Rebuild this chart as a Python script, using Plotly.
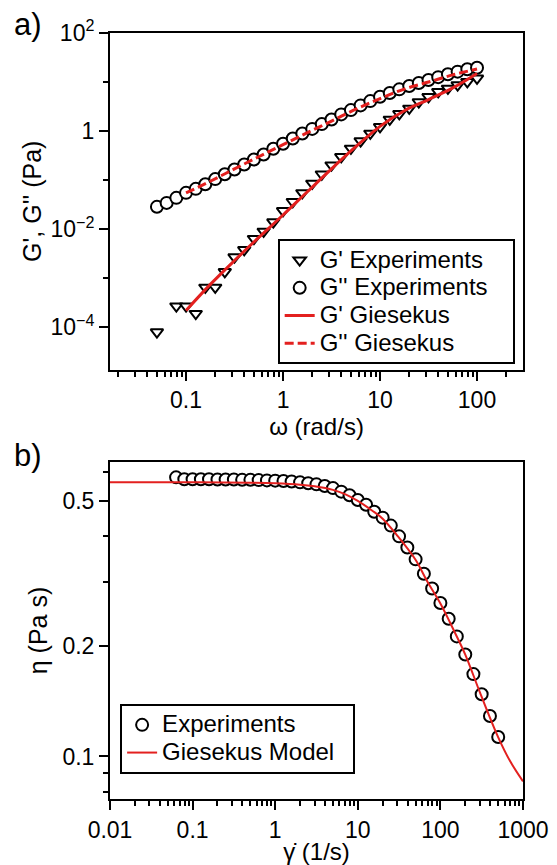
import plotly.graph_objects as go

# ---------------- Panel a data ----------------
omega_gpp = [0.0501, 0.0631, 0.0794, 0.1, 0.126, 0.158, 0.2, 0.251, 0.316, 0.398,
             0.501, 0.631, 0.794, 1.0, 1.26, 1.58, 2.0, 2.51, 3.16, 3.98,
             5.01, 6.31, 7.94, 10, 12.6, 15.8, 20, 25.1, 31.6, 39.8,
             50.1, 63.1, 79.4, 100]
gpp_exp = [0.0286, 0.0344, 0.0436, 0.0551, 0.0665, 0.0828, 0.105, 0.132, 0.165, 0.209,
           0.264, 0.334, 0.436, 0.551, 0.708, 0.895, 1.11, 1.39, 1.73, 2.19,
           2.68, 3.34, 4.09, 5.02, 5.97, 7.10, 8.28, 9.55, 11.0, 12.6,
           14.4, 16.3, 18.2, 19.6]

omega_gp = [0.0501, 0.0794, 0.1, 0.126, 0.158, 0.2, 0.251, 0.316, 0.398,
            0.501, 0.631, 0.794, 1.0, 1.26, 1.58, 2.0, 2.51, 3.16, 3.98,
            5.01, 6.31, 7.94, 10, 12.6, 15.8, 20, 25.1, 31.6, 39.8,
            50.1, 63.1, 79.4, 100]
gp_exp = [8.0e-5, 2.7e-4, 2.7e-4, 1.9e-4, 6.5e-4, 6.5e-4, 1.35e-3, 2.7e-3, 3.8e-3,
          6.4e-3, 9.0e-3, 0.014, 0.0237, 0.0363, 0.055, 0.0857, 0.132, 0.202, 0.299,
          0.443, 0.625, 0.895, 1.22, 1.73, 2.25, 2.9, 3.9, 5.01, 6.31,
          7.43, 8.69, 10.1, 11.9]

omega_fit = [0.1, 0.178, 0.316, 0.562, 1.0, 1.78, 3.16, 5.62, 10, 17.8, 31.6, 56.2, 100]
gp_fit = [2.2e-4, 7.5e-4, 2.3e-3, 6.8e-3, 0.0195, 0.058, 0.17, 0.48, 1.25, 2.6, 4.4, 7.6, 15.0]
gpp_fit = [0.055, 0.095, 0.17, 0.30, 0.53, 0.93, 1.6, 2.8, 4.6, 7.2, 10.0, 14.0, 18.5]

# ---------------- Panel b data ----------------
shear_rate = [0.0631, 0.0794, 0.1, 0.126, 0.158, 0.2, 0.251, 0.316, 0.398, 0.501,
              0.631, 0.794, 1.0, 1.26, 1.58, 2.0, 2.51, 3.16, 3.98, 5.01,
              6.31, 7.94, 10, 12.6, 15.8, 20, 25.1, 31.6, 39.8, 50.1,
              63.1, 79.4, 100, 126, 158, 200, 251, 316, 398, 501]
eta_exp = [0.580, 0.573, 0.573, 0.573, 0.573, 0.572, 0.572, 0.572, 0.571, 0.571,
           0.570, 0.569, 0.568, 0.567, 0.565, 0.562, 0.559, 0.555, 0.549, 0.542,
           0.530, 0.518, 0.503, 0.488, 0.467, 0.450, 0.428, 0.400, 0.373, 0.346,
           0.316, 0.288, 0.263, 0.238, 0.213, 0.190, 0.168, 0.148, 0.129, 0.113]

shear_fit = [0.01, 0.1, 0.5, 1, 2, 3, 5, 7, 10, 15, 20, 30, 50, 70, 100, 150, 200, 300, 500, 700, 1000]
eta_fit = [0.562, 0.562, 0.561, 0.559, 0.554, 0.548, 0.536, 0.522, 0.500, 0.470, 0.447,
           0.402, 0.345, 0.300, 0.262, 0.218, 0.190, 0.150, 0.113, 0.097, 0.0855]

RED = "#e3201f"
FONT = "Liberation Sans, Arial, Helvetica, sans-serif"


def big(s, px=24, pad=0):
    return '<span style="font-size:%dpx">%s%s</span>' % (px, s, "&nbsp;" * pad)


fig = go.Figure()

fig.add_trace(go.Scatter(x=omega_gp, y=gp_exp, mode="markers", name=big("G' Experiments"),
                         marker=dict(symbol="triangle-down", size=11, color="white",
                                     line=dict(color="black", width=2)),
                         xaxis="x", yaxis="y", legend="legend"))
fig.add_trace(go.Scatter(x=omega_gpp, y=gpp_exp, mode="markers", name=big("G'' Experiments", pad=3),
                         marker=dict(symbol="circle", size=12, color="white",
                                     line=dict(color="black", width=2)),
                         xaxis="x", yaxis="y", legend="legend"))
fig.add_trace(go.Scatter(x=omega_fit, y=gp_fit, mode="lines", name=big("G' Giesekus"),
                         line=dict(color=RED, width=3, shape="spline"),
                         xaxis="x", yaxis="y", legend="legend"))
fig.add_trace(go.Scatter(x=omega_fit, y=gpp_fit, mode="lines", name=big("G'' Giesekus"),
                         line=dict(color=RED, width=3, dash="9px,4px", shape="spline"),
                         xaxis="x", yaxis="y", legend="legend"))

fig.add_trace(go.Scatter(x=shear_rate, y=eta_exp, mode="markers", name=big("Experiments"),
                         marker=dict(symbol="circle", size=12, color="white",
                                     line=dict(color="black", width=2)),
                         xaxis="x2", yaxis="y2", legend="legend2"))
fig.add_trace(go.Scatter(x=shear_fit, y=eta_fit, mode="lines", name=big("Giesekus Model", pad=2),
                         line=dict(color=RED, width=2, shape="spline"),
                         xaxis="x2", yaxis="y2", legend="legend2"))

axis_common = dict(showline=True, linecolor="black", linewidth=2, mirror=True,
                   ticks="outside", ticklen=9, tickwidth=2, tickcolor="black",
                   showgrid=False, zeroline=False, automargin=False,
                   tickfont=dict(family=FONT, size=23, color="black"))


def minor_decades(lo, hi):
    vals = []
    for e in range(lo, hi + 1):
        for m in range(2, 10):
            vals.append(m * 10.0 ** e)
    return vals


minor_style = dict(ticklen=5, tickwidth=2, tickcolor="black", ticks="outside")

fig.update_layout(
    width=549, height=857,
    margin=dict(l=102, r=34, t=25, b=66, autoexpand=False),
    plot_bgcolor="white", paper_bgcolor="white",
    font=dict(family=FONT, size=23, color="black"),
    xaxis=dict(axis_common, type="log", range=[-1.784, 2.474], anchor="y",
               tickmode="array", tickvals=[0.1, 1, 10, 100], ticktext=["0.1", "1", "10", "100"],
               minor=dict(minor_style, tickmode="array",
                          tickvals=[v for v in minor_decades(-2, 2) if v < 300.5]),
               title=dict(text="ω (rad/s)", font=dict(size=24), standoff=2)),
    yaxis=dict(axis_common, type="log", range=[-4.86, 2.0], domain=[0.5607, 1.0], anchor="x",
               tickmode="array", tickvals=[1e-4, 1e-2, 1, 100],
               ticktext=["10<sup>−4</sup>", "10<sup>−2</sup>", "1", "10<sup>2</sup>"],
               minor=dict(minor_style, tickmode="array", tickvals=[1e-3, 1e-1, 10]),
               title=dict(text="G', G'' (Pa)", font=dict(size=25), standoff=2)),
    xaxis2=dict(axis_common, type="log", range=[-2, 3], anchor="y2",
                tickmode="array", tickvals=[0.01, 0.1, 1, 10, 100, 1000],
                ticktext=["0.01", "0.1", "1", "10", "100", "1000"],
                minor=dict(minor_style, tickmode="array", tickvals=minor_decades(-2, 2)),
                title=dict(text="\u03b3\u0307 (1/s)", font=dict(size=24), standoff=3)),
    yaxis2=dict(axis_common, type="log", range=[-1.1163, -0.1945], domain=[0.0, 0.440], anchor="x2",
                tickmode="array", tickvals=[0.1, 0.2, 0.5], ticktext=["0.1", "0.2", "0.5"],
                minor=dict(minor_style, tickmode="array", tickvals=[0.08, 0.09, 0.3, 0.4, 0.6]),
                title=dict(text="η (Pa s)", font=dict(size=25), standoff=8)),
    legend=dict(x=0.406, y=0.7307, xanchor="left", yanchor="top",
                bgcolor="white", bordercolor="black", borderwidth=2,
                font=dict(family=FONT, size=19, color="black"),
                tracegroupgap=0, itemwidth=30),
    legend2=dict(x=0.0245, y=0.124, xanchor="left", yanchor="top",
                 bgcolor="white", bordercolor="black", borderwidth=2,
                 font=dict(family=FONT, size=19, color="black"),
                 tracegroupgap=0, itemwidth=30),
    annotations=[
        dict(text="a)", x=-0.1985, y=1.0117, xref="paper", yref="paper",
             xanchor="center", yanchor="middle",
             showarrow=False, font=dict(family=FONT, size=31, color="black")),
        dict(text="b)", x=-0.1985, y=0.449, xref="paper", yref="paper",
             xanchor="center", yanchor="middle",
             showarrow=False, font=dict(family=FONT, size=31, color="black")),
    ],
    showlegend=True,
)

fig.write_html("out.html")
